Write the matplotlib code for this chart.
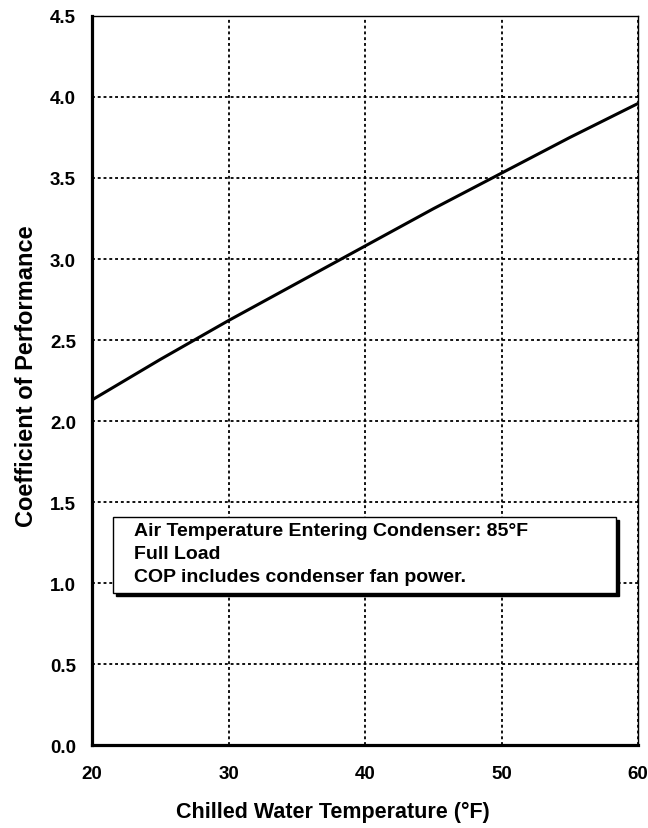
import matplotlib.pyplot as plt
from matplotlib.patches import Rectangle

plt.rcParams['font.family'] = ['Liberation Sans', 'DejaVu Sans']
plt.rcParams['font.weight'] = 'bold'

# chilled water temperature vs COP
temps = [20, 25, 30, 35, 40, 45, 50, 55, 60]
cop = [2.13, 2.38, 2.62, 2.85, 3.08, 3.31, 3.53, 3.75, 3.96]

xticks = [20, 30, 40, 50, 60]
yticks = [0.0, 0.5, 1.0, 1.5, 2.0, 2.5, 3.0, 3.5, 4.0, 4.5]

note_lines = ["Air Temperature Entering Condenser: 85\u00b0F",
              "Full Load",
              "COP includes condenser fan power."]

fig = plt.figure(figsize=(6.48, 8.29), dpi=100)
ax = fig.add_axes([0.142, 0.1001, 0.8426, 0.8794])

ax.plot(temps, cop, color='black', lw=2.2, solid_capstyle='butt', zorder=3)

ax.set_xlim(20, 60)
ax.set_ylim(0, 4.5)
ax.set_xticks(xticks)
ax.set_yticks(yticks)
ax.set_yticklabels([f"{v:.1f}" for v in yticks])
ax.tick_params(length=0, labelsize=13.5)
ax.tick_params(axis='y', pad=11.5)
ax.tick_params(axis='x', pad=14.5)
ax.grid(True, color='black', linestyle=(0, (1.6, 1.6)), lw=1.3)

for s in ['left', 'bottom']:
    ax.spines[s].set_linewidth(2.3)
for s in ['top', 'right']:
    ax.spines[s].set_linewidth(1.0)

ax.set_xlabel("Chilled Water Temperature (\u00b0F)", fontsize=15.5, fontweight='bold')
ax.set_ylabel("Coefficient of Performance", fontsize=17, fontweight='bold')
ax.xaxis.set_label_coords(0.4414, -0.077)
ax.yaxis.set_label_coords(-0.099, 0.5075)

# note box with drop shadow (axes fraction)
bx, by, bw, bh = 0.0385, 0.2085, 0.9212, 0.1043
dx, dy = 3 / 546, -3 / 729
ax.add_patch(Rectangle((bx + dx, by + dy), bw, bh, transform=ax.transAxes,
                       fc='black', ec='black', lw=1.0, zorder=5))
ax.add_patch(Rectangle((bx, by), bw, bh, transform=ax.transAxes,
                       fc='white', ec='black', lw=1.0, zorder=6))
for line, yb in zip(note_lines, [0.2881, 0.2565, 0.2250]):
    ax.text(0.0770, yb, line, transform=ax.transAxes, fontsize=14,
            va='baseline', ha='left', zorder=7)

fig.savefig("out.png", dpi=100)
